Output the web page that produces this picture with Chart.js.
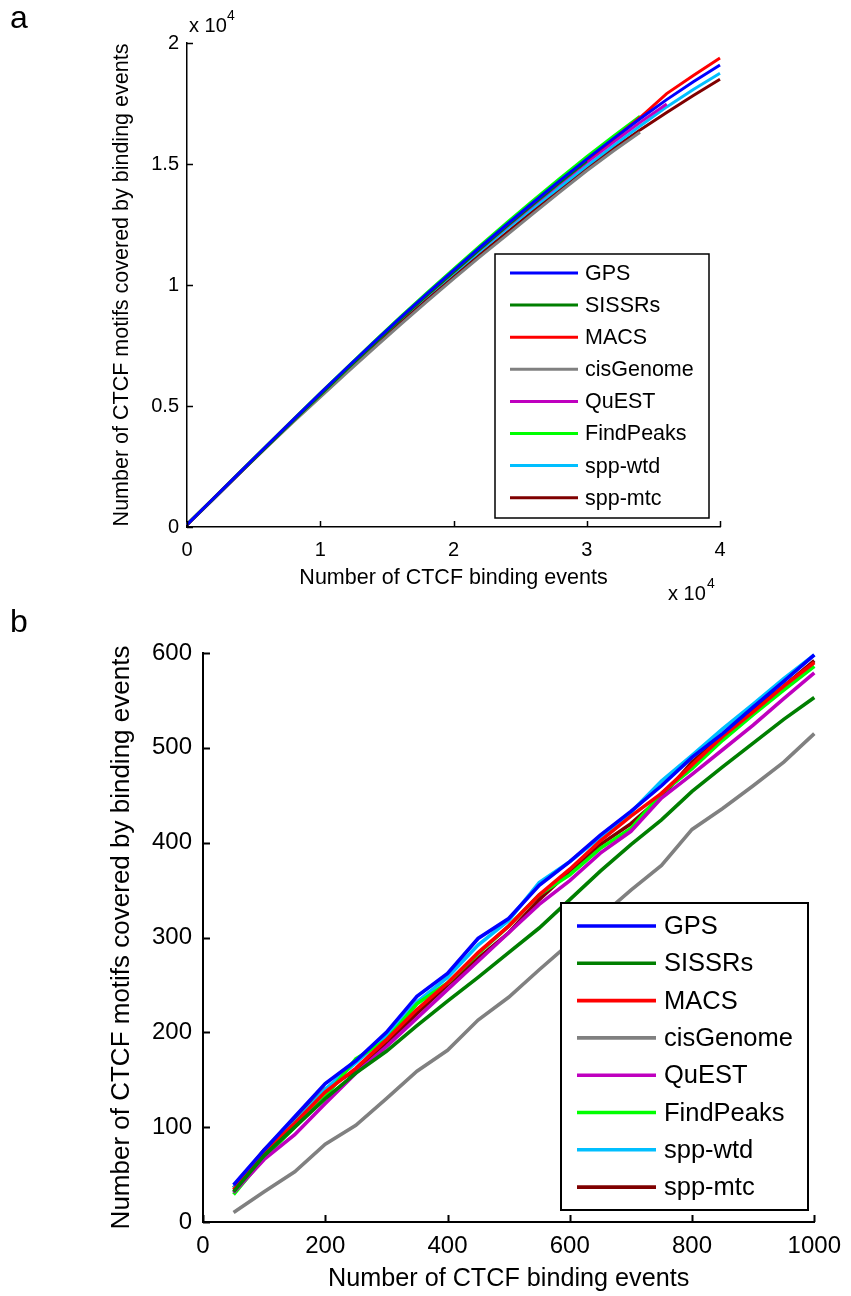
<!DOCTYPE html>
<html>
<head>
<meta charset="utf-8">
<script src="https://cdn.jsdelivr.net/npm/chart.js@4.4.0/dist/chart.umd.min.js"></script>
<style>
  body { margin: 0; background: #fff; }
  #wrap { position: relative; width: 851px; height: 1296px; font-family: "Liberation Sans", Arial, sans-serif; color: #000; }
  canvas { position: absolute; left: 0; }
  #chartA { top: 0; }
  #chartB { top: 615px; }
  .lbl { position: absolute; white-space: nowrap; line-height: 1; }
</style>
</head>
<body>
<div id="wrap">
  <canvas id="chartA" width="851" height="615"></canvas>
  <canvas id="chartB" width="851" height="681"></canvas>
  <div class="lbl" style="left:10px; top:1px; font-size:32px">a</div>
  <div class="lbl" style="left:10px; top:605px; font-size:32px">b</div>
  <div class="lbl" style="left:189px; top:15px; font-size:20px">x 10</div>
  <div class="lbl" style="left:227px; top:8px; font-size:14px">4</div>
  <div class="lbl" style="left:668px; top:583px; font-size:20px">x 10</div>
  <div class="lbl" style="left:707px; top:576px; font-size:14px">4</div>
</div>
<script>
// method names and line colours (same order in both panels)
var methods = ["GPS", "SISSRs", "MACS", "cisGenome", "QuEST", "FindPeaks", "spp-wtd", "spp-mtc"];
var colors = ["#0000ff", "#007f00", "#ff0000", "#808080", "#bf00bf", "#00ff00", "#00bfff", "#7f0000"];

// panel a: all binding events (x every 2000 events)
var aEvents = [0, 2000, 4000, 6000, 8000, 10000, 12000, 14000, 16000, 18000, 20000,
               22000, 24000, 26000, 28000, 30000, 32000, 34000, 36000, 38000, 40000];
var aGPS = [100, 1190, 2280, 3370, 4450, 5520, 6580, 7620, 8640, 9630, 10600,
            11560, 12500, 13420, 14320, 15200, 16050, 16870, 17660, 18400, 19090];
var aSISSRs = [100, 1170, 2250, 3330, 4400, 5460, 6520, 7560, 8580, 9570, 10530,
               11490, 12430, 13350, 14250, 15130];
var aMACS = [100, 1180, 2270, 3350, 4430, 5500, 6550, 7590, 8610, 9600, 10570,
             11530, 12470, 13390, 14290, 15170, 16030, 16920, 17910, 18660, 19380];
var aCisGenome = [100, 1170, 2240, 3310, 4350, 5370, 6380, 7370, 8350, 9310, 10250,
                  11170, 12060, 12960, 13850, 14720, 15540, 16310];
var aQuEST = [90, 1160, 2240, 3330, 4410, 5480, 6540, 7580, 8590, 9570, 10530,
              11480, 12400, 13310, 14200, 15070, 15910, 16720, 17480];
var aFindPeaks = [110, 1200, 2290, 3380, 4460, 5530, 6590, 7640, 8670, 9680, 10660,
                  11630, 12580, 13510, 14410, 15300, 16150, 16970];
var aSppWtd = [90, 1170, 2260, 3350, 4430, 5500, 6560, 7580, 8580, 9540, 10480,
               11410, 12320, 13200, 14060, 14920, 15760, 16570, 17360, 18080, 18750];
var aSppMtc = [100, 1190, 2270, 3340, 4390, 5420, 6450, 7460, 8450, 9420, 10360,
               11270, 12160, 13070, 13970, 14830, 15640, 16410, 17130, 17830, 18500];
var aXTickVals = [0, 10000, 20000, 30000, 40000];
var aXTickLabels = ["0", "1", "2", "3", "4"];
var aYTickVals = [0, 5000, 10000, 15000, 20000];
var aYTickLabels = ["0", "0.5", "1", "1.5", "2"];

// panel b: top 1000 binding events (x every 50 events)
var bEvents = [50, 100, 150, 200, 250, 300, 350, 400, 450, 500,
               550, 600, 650, 700, 750, 800, 850, 900, 950, 1000];
var bGPS = [39, 76, 111, 146, 170, 200, 238, 262, 299, 320, 355, 380, 408, 433, 460, 490, 515, 543, 570, 598];
var bSISSRs = [32, 70, 100, 130, 157, 180, 207, 233, 258, 284, 310, 340, 370, 398, 424, 454, 480, 505, 530, 553];
var bMACS = [34, 74, 104, 137, 162, 192, 224, 252, 284, 312, 345, 372, 402, 428, 452, 482, 512, 538, 565, 590];
var bCisGenome = [10, 32, 53, 82, 102, 130, 159, 181, 213, 237, 266, 294, 322, 350, 376, 414, 436, 460, 485, 515];
var bQuEST = [31, 66, 92, 125, 157, 185, 215, 245, 275, 305, 335, 360, 389, 412, 447, 472, 498, 524, 552, 579];
var bFindPeaks = [29, 68, 100, 132, 172, 192, 230, 252, 283, 312, 345, 366, 394, 415, 452, 478, 508, 535, 561, 586];
var bSppWtd = [36, 74, 105, 140, 168, 196, 232, 258, 292, 318, 358, 380, 406, 432, 465, 492, 520, 546, 573, 598];
var bSppMtc = [36, 76, 108, 140, 160, 188, 220, 250, 278, 305, 340, 370, 398, 420, 448, 485, 512, 540, 565, 592];
var bXTickVals = [0, 200, 400, 600, 800, 1000];
var bXTickLabels = ["0", "200", "400", "600", "800", "1000"];
var bYTickVals = [0, 100, 200, 300, 400, 500, 600];
var bYTickLabels = ["0", "100", "200", "300", "400", "500", "600"];

var family = '"Liberation Sans", Arial, sans-serif';

// matlab style tick marks pointing into the plot
const inwardTicks = {
    id: "inwardTicks",
    afterDatasetsDraw(chart, args, opts) {
        const ctx = chart.ctx;
        const area = chart.chartArea;
        const xs = chart.scales.x, ys = chart.scales.y;
        ctx.save();
        ctx.strokeStyle = "#000";
        ctx.lineWidth = opts.width;
        ctx.beginPath();
        xs.ticks.forEach(t => {
            const px = Math.round(xs.getPixelForValue(t.value)) + 0.5;
            ctx.moveTo(px, area.bottom);
            ctx.lineTo(px, area.bottom - opts.length);
        });
        ys.ticks.forEach(t => {
            const py = Math.round(ys.getPixelForValue(t.value)) + 0.5;
            ctx.moveTo(area.left, py);
            ctx.lineTo(area.left + opts.length, py);
        });
        ctx.stroke();
        ctx.restore();
    }
};

// boxed legend inside the axes
const boxLegend = {
    id: "boxLegend",
    afterDatasetsDraw(chart, args, o) {
        const ctx = chart.ctx;
        ctx.save();
        ctx.fillStyle = "#fff";
        ctx.fillRect(o.left, o.top, o.width, o.height);
        ctx.strokeStyle = "#000";
        ctx.lineWidth = o.border;
        ctx.strokeRect(o.left, o.top, o.width, o.height);
        ctx.font = o.font;
        ctx.textAlign = "left";
        ctx.textBaseline = "middle";
        chart.data.datasets.forEach((ds, i) => {
            const yy = o.firstRow + i * o.rowStep;
            ctx.strokeStyle = ds.borderColor;
            ctx.lineWidth = ds.borderWidth;
            ctx.beginPath();
            ctx.moveTo(o.left + o.lineStart, yy);
            ctx.lineTo(o.left + o.lineEnd, yy);
            ctx.stroke();
            ctx.fillStyle = "#000";
            ctx.fillText(ds.label, o.left + o.textStart, yy + 1);
        });
        ctx.restore();
    }
};

function makeSets(xs, series, width) {
    return series.map((vals, k) => ({
        label: methods[k],
        data: vals.map((v, i) => ({ x: xs[i], y: v })),
        borderColor: colors[k],
        backgroundColor: colors[k],
        borderWidth: width,
        pointRadius: 0,
        fill: false,
        tension: 0,
        clip: false
    }));
}

function axis(opt) {
    return {
        type: "linear",
        min: opt.min,
        max: opt.max,
        afterBuildTicks: s => { s.ticks = opt.vals.map(v => ({ value: v })); },
        afterFit: opt.fit,
        grid: { display: false, drawTicks: false },
        border: { display: true, color: "#000", width: opt.border },
        ticks: {
            color: "#000",
            padding: opt.pad,
            autoSkip: false,
            maxRotation: 0,
            font: { family: family, size: opt.tickSize },
            callback: (v, i) => opt.labels[i]
        },
        title: {
            display: true,
            text: opt.title,
            color: "#000",
            font: { family: family, size: opt.titleSize },
            padding: opt.titlePad
        }
    };
}

var commonOpts = {
    responsive: false,
    animation: false,
    devicePixelRatio: 1,
    events: []
};

new Chart(document.getElementById("chartA"), {
    type: "line",
    data: {
        datasets: makeSets(aEvents, [aGPS, aSISSRs, aMACS, aCisGenome, aQuEST, aFindPeaks, aSppWtd, aSppMtc], 3)
    },
    options: Object.assign({}, commonOpts, {
        layout: { padding: { left: 0, right: 131, top: 43, bottom: 0 } },
        scales: {
            x: axis({ min: 0, max: 40000, vals: aXTickVals, labels: aXTickLabels, border: 1.5,
                      pad: 11, tickSize: 20, titleSize: 21.5, title: "Number of CTCF binding events",
                      titlePad: { top: 0, bottom: 24 }, fit: s => { s.height = 88; } }),
            y: axis({ min: 0, max: 20000, vals: aYTickVals, labels: aYTickLabels, border: 1.5,
                      pad: 8, tickSize: 20, titleSize: 21.5, title: "Number of CTCF motifs covered by binding events",
                      titlePad: { top: 109, bottom: 0 }, fit: s => { s.width = 187; } })
        },
        plugins: {
            legend: { display: false },
            tooltip: { enabled: false },
            inwardTicks: { length: 6, width: 1.5 },
            boxLegend: { left: 495, top: 254, width: 214, height: 264, border: 1.5,
                         lineStart: 15, lineEnd: 83, textStart: 90, firstRow: 273, rowStep: 32.1,
                         font: '21.5px "Liberation Sans", Arial, sans-serif' }
        }
    }),
    plugins: [inwardTicks, boxLegend]
});

new Chart(document.getElementById("chartB"), {
    type: "line",
    data: {
        datasets: makeSets(bEvents, [bGPS, bSISSRs, bMACS, bCisGenome, bQuEST, bFindPeaks, bSppWtd, bSppMtc], 3.6)
    },
    options: Object.assign({}, commonOpts, {
        layout: { padding: { left: 0, right: 30, top: 38, bottom: 0 } },
        scales: {
            x: axis({ min: 0, max: 1000, vals: bXTickVals, labels: bXTickLabels, border: 2,
                      pad: 10, tickSize: 24, titleSize: 25.2, title: "Number of CTCF binding events",
                      titlePad: { top: 0, bottom: 2 }, fit: s => { s.height = 74; } }),
            y: axis({ min: 0, max: 600, vals: bYTickVals, labels: bYTickLabels, border: 2,
                      pad: 11, tickSize: 24, titleSize: 26, title: "Number of CTCF motifs covered by binding events",
                      titlePad: { top: 106, bottom: 0 }, fit: s => { s.width = 203; } })
        },
        plugins: {
            legend: { display: false },
            tooltip: { enabled: false },
            inwardTicks: { length: 7, width: 2 },
            boxLegend: { left: 561, top: 288, width: 247, height: 307, border: 2,
                         lineStart: 16, lineEnd: 95, textStart: 103, firstRow: 311, rowStep: 37.3,
                         font: '25.5px "Liberation Sans", Arial, sans-serif' }
        }
    }),
    plugins: [inwardTicks, boxLegend]
});
</script>
</body>
</html>
